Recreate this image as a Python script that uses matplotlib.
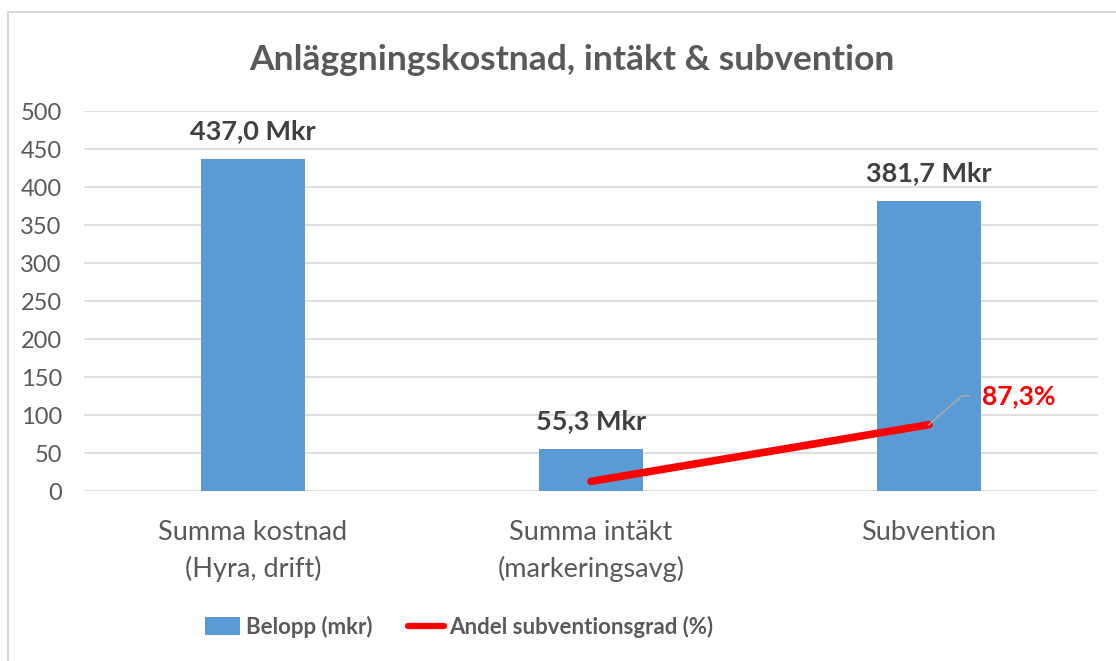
import matplotlib
matplotlib.use("Agg")
import matplotlib.pyplot as plt
from matplotlib.lines import Line2D
from matplotlib.patches import Patch

categories = ["Summa kostnad\n(Hyra, drift)", "Summa intäkt\n(markeringsavg)", "Subvention"]
belopp = [437.0, 55.3, 381.7]
belopp_labels = ["437,0 Mkr", "55,3 Mkr", "381,7 Mkr"]
andel_x = [1, 2]
andel = [12.7, 87.3]
andel_label = "87,3%"
yticks = [0, 50, 100, 150, 200, 250, 300, 350, 400, 450, 500]

FONT = ["Lato", "DejaVu Sans"]
GRAY = "#595959"
DARK = "#404040"
BLUE = "#5b9bd5"

W, H = 1116, 661
fig = plt.figure(figsize=(W / 100, H / 100), dpi=100)
ax = fig.add_axes([84 / W, 1 - 491 / H, (1098 - 84) / W, (491 - 111) / H])

x = list(range(len(categories)))
ax.bar(x, belopp, width=0.31, color=BLUE, zorder=2)
ax.plot(andel_x, andel, color="#ff0000", lw=5.5, solid_capstyle="round", zorder=3)

for xi, v, lab in zip(x, belopp, belopp_labels):
    ax.annotate(lab, (xi, v), xytext=(0, 20), textcoords="offset points",
                ha="center", va="center", fontsize=19.5, fontweight="bold",
                color=DARK, family=FONT)

ax.set_xlim(-0.5, 2.5)
ax.set_ylim(0, 500)
ax.set_yticks(yticks)
ax.set_yticklabels([str(t) for t in yticks], fontsize=17, color=GRAY, family=FONT)
ax.set_xticks(x)
ax.set_xticklabels(categories, fontsize=19.5, color=GRAY, family=FONT, linespacing=1.5)
ax.tick_params(axis="both", length=0)
ax.tick_params(axis="y", pad=16)
ax.tick_params(axis="x", pad=21)
ax.grid(axis="y", color="#d9d9d9", lw=1.2, zorder=0)
for s in ax.spines.values():
    s.set_visible(False)

# leader line + label for 87,3%
px, py = ax.transData.transform((andel_x[-1], andel[-1]))
pts_x = [px, px + 33, px + 41]
pts_y = [py, py + 29, py + 29]
fig.add_artist(Line2D(pts_x, pts_y, transform=None, color="#a6a6a6", lw=1.2))
fig.text((px + 53) / W, (py + 29) / H, andel_label, ha="left", va="center",
         fontsize=19, fontweight="bold", color="#ff0000", family=FONT)

fig.text(572 / W, 1 - 60 / H, "Anläggningskostnad, intäkt & subvention",
         ha="center", va="center", fontsize=25.5, fontweight="bold", color=GRAY, family=FONT)

handles = [Patch(facecolor=BLUE, edgecolor="none"),
           Line2D([0], [0], color="#ff0000", lw=4.5, solid_capstyle="round")]
leg = fig.legend(handles, ["Belopp (mkr)", "Andel subventionsgrad (%)"],
                 loc="center", bbox_to_anchor=(459 / W, 1 - 627 / H), ncol=2,
                 frameon=False, handlelength=1.6, handleheight=0.85,
                 handletextpad=0.25, columnspacing=1.6,
                 prop={"family": FONT, "size": 16, "weight": "bold"})
for t in leg.get_texts():
    t.set_color(GRAY)

# chart border
fig.add_artist(Line2D([8, 8, W + 5], [-5, H - 12, H - 12], transform=None,
                      color="#d9d9d9", lw=1.5))

fig.savefig("out.png", dpi=100)
